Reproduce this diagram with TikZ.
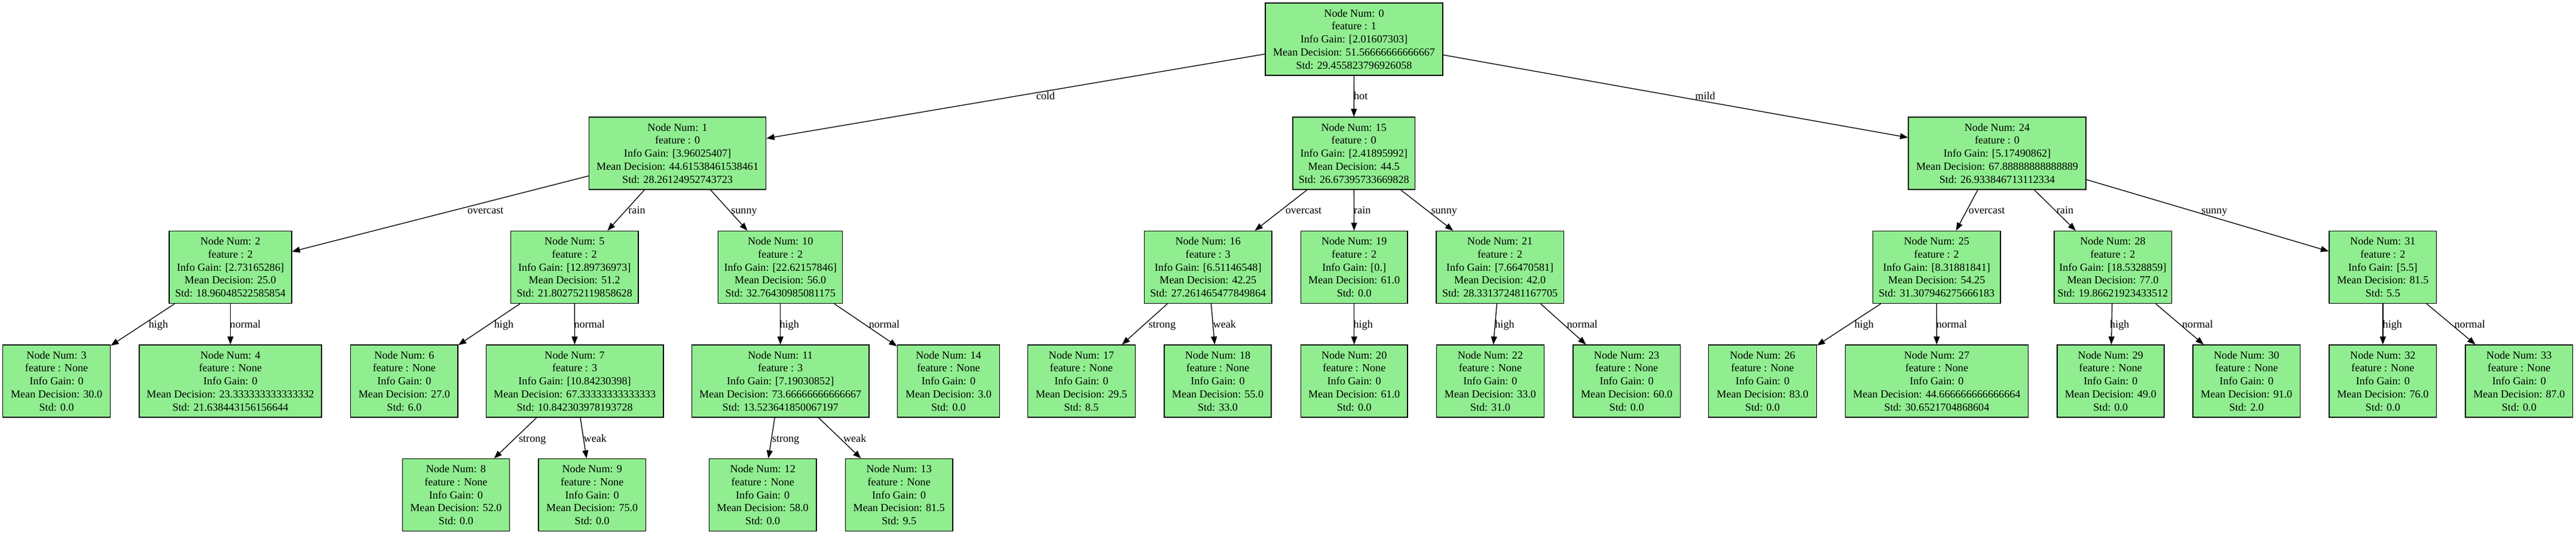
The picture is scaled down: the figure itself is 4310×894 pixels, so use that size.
\documentclass[tikz,border=0pt]{standalone}
\usepackage{fontspec}
\setmainfont{Liberation Serif}
\usetikzlibrary{arrows.meta}
\definecolor{lgreen}{RGB}{144,238,144}
\begin{document}
\begin{tikzpicture}[x=0.75pt,y=-0.75pt,
  tn/.style={draw=black, line width=1pt, fill=lgreen, rectangle, inner sep=0pt,
    minimum height=90.75pt, align=center, font=\fontsize{13.6pt}{16.35pt}\selectfont},
  nw/.style={minimum width=#1*0.75pt},
  edge/.style={draw=black, line width=1pt, -{Triangle[length=10pt,width=7.5pt]}},
  elab/.style={anchor=base, inner sep=0pt, font=\fontsize{13.6pt}{16.35pt}\selectfont}]
\useasboundingbox (0,0) rectangle (4310,894);
% level 0
\node[tn,nw=297] (n0) at (2265.5,65.5) {Node Num: 0\\feature : 1\\Info Gain: [2.01607303]\\Mean Decision: 51.56666666666667\\Std: 29.455823796926058};
% level 1
\node[tn,nw=296] (n1) at (1133.6,256.5) {Node Num: 1\\feature : 0\\Info Gain: [3.96025407]\\Mean Decision: 44.61538461538461\\Std: 28.26124952743723};
\node[tn,nw=204.5] (n15) at (2265.2,256.5) {Node Num: 15\\feature : 0\\Info Gain: [2.41895992]\\Mean Decision: 44.5\\Std: 26.67395733669828};
\node[tn,nw=297] (n24) at (3341.5,256.5) {Node Num: 24\\feature : 0\\Info Gain: [5.17490862]\\Mean Decision: 67.88888888888889\\Std: 26.933846713112334};
% level 2
\node[tn,nw=204.7] (n2) at (385.5,447) {Node Num: 2\\feature : 2\\Info Gain: [2.73165286]\\Mean Decision: 25.0\\Std: 18.96048522585854};
\node[tn,nw=213.3] (n5) at (961.2,447) {Node Num: 5\\feature : 2\\Info Gain: [12.89736973]\\Mean Decision: 51.2\\Std: 21.802752119858628};
\node[tn,nw=207.8] (n10) at (1305.7,447) {Node Num: 10\\feature : 2\\Info Gain: [22.62157846]\\Mean Decision: 56.0\\Std: 32.76430985081175};
\node[tn,nw=213.3] (n16) at (2021.2,447) {Node Num: 16\\feature : 3\\Info Gain: [6.51146548]\\Mean Decision: 42.25\\Std: 27.261465477849864};
\node[tn,nw=178.6] (n19) at (2265.7,447) {Node Num: 19\\feature : 2\\Info Gain: [0.]\\Mean Decision: 61.0\\Std: 0.0};
\node[tn,nw=213.5] (n21) at (2509.6,447) {Node Num: 21\\feature : 2\\Info Gain: [7.66470581]\\Mean Decision: 42.0\\Std: 28.331372481167705};
\node[tn,nw=213.2] (n25) at (3240.2,447) {Node Num: 25\\feature : 2\\Info Gain: [8.31881841]\\Mean Decision: 54.25\\Std: 31.307946275666183};
\node[tn,nw=196.4] (n28) at (3535,447) {Node Num: 28\\feature : 2\\Info Gain: [18.5328859]\\Mean Decision: 77.0\\Std: 19.86621923433512};
\node[tn,nw=179.7] (n31) at (3986.8,447) {Node Num: 31\\feature : 2\\Info Gain: [5.5]\\Mean Decision: 81.5\\Std: 5.5};
% level 3
\node[tn,nw=180] (n3) at (94.6,637.5) {Node Num: 3\\feature : None\\Info Gain: 0\\Mean Decision: 30.0\\Std: 0.0};
\node[tn,nw=305.3] (n4) at (385.5,637.5) {Node Num: 4\\feature : None\\Info Gain: 0\\Mean Decision: 23.333333333333332\\Std: 21.638443156156644};
\node[tn,nw=179.2] (n6) at (676.4,637.5) {Node Num: 6\\feature : None\\Info Gain: 0\\Mean Decision: 27.0\\Std: 6.0};
\node[tn,nw=296.8] (n7) at (961.6,637.5) {Node Num: 7\\feature : 3\\Info Gain: [10.84230398]\\Mean Decision: 67.33333333333333\\Std: 10.842303978193728};
\node[tn,nw=296.4] (n11) at (1305.7,637.5) {Node Num: 11\\feature : 3\\Info Gain: [7.19030852]\\Mean Decision: 73.66666666666667\\Std: 13.523641850067197};
\node[tn,nw=171] (n14) at (1587,637.5) {Node Num: 14\\feature : None\\Info Gain: 0\\Mean Decision: 3.0\\Std: 0.0};
\node[tn,nw=180] (n17) at (1809.3,637.5) {Node Num: 17\\feature : None\\Info Gain: 0\\Mean Decision: 29.5\\Std: 8.5};
\node[tn,nw=179.2] (n18) at (2037.5,637.5) {Node Num: 18\\feature : None\\Info Gain: 0\\Mean Decision: 55.0\\Std: 33.0};
\node[tn,nw=178.6] (n20) at (2265.7,637.5) {Node Num: 20\\feature : None\\Info Gain: 0\\Mean Decision: 61.0\\Std: 0.0};
\node[tn,nw=179.6] (n22) at (2493.4,637.5) {Node Num: 22\\feature : None\\Info Gain: 0\\Mean Decision: 33.0\\Std: 31.0};
\node[tn,nw=179.6] (n23) at (2721.6,637.5) {Node Num: 23\\feature : None\\Info Gain: 0\\Mean Decision: 60.0\\Std: 0.0};
\node[tn,nw=180.8] (n26) at (2949,637.5) {Node Num: 26\\feature : None\\Info Gain: 0\\Mean Decision: 83.0\\Std: 0.0};
\node[tn,nw=305.7] (n27) at (3240.4,637.5) {Node Num: 27\\feature : None\\Info Gain: 0\\Mean Decision: 44.666666666666664\\Std: 30.6521704868604};
\node[tn,nw=179] (n29) at (3531.3,637.5) {Node Num: 29\\feature : None\\Info Gain: 0\\Mean Decision: 49.0\\Std: 0.0};
\node[tn,nw=179.7] (n30) at (3758.7,637.5) {Node Num: 30\\feature : None\\Info Gain: 0\\Mean Decision: 91.0\\Std: 2.0};
\node[tn,nw=179.7] (n32) at (3986.8,637.5) {Node Num: 32\\feature : None\\Info Gain: 0\\Mean Decision: 76.0\\Std: 0.0};
\node[tn,nw=179.7] (n33) at (4214.8,637.5) {Node Num: 33\\feature : None\\Info Gain: 0\\Mean Decision: 87.0\\Std: 0.0};
% level 4
\node[tn,nw=179.3] (n8) at (762.9,828) {Node Num: 8\\feature : None\\Info Gain: 0\\Mean Decision: 52.0\\Std: 0.0};
\node[tn,nw=179.4] (n9) at (990.7,828) {Node Num: 9\\feature : None\\Info Gain: 0\\Mean Decision: 75.0\\Std: 0.0};
\node[tn,nw=179.6] (n12) at (1276.2,828) {Node Num: 12\\feature : None\\Info Gain: 0\\Mean Decision: 58.0\\Std: 0.0};
\node[tn,nw=179.7] (n13) at (1504.2,828) {Node Num: 13\\feature : None\\Info Gain: 0\\Mean Decision: 81.5\\Std: 9.5};
% edges
\draw[edge] (n0) -- (n1);
\draw[edge] (n0) -- (n15);
\draw[edge] (n0) -- (n24);
\draw[edge] (n1) -- (n2);
\draw[edge] (n1) -- (n5);
\draw[edge] (n1) -- (n10);
\draw[edge] (n2) -- (n3);
\draw[edge] (n2) -- (n4);
\draw[edge] (n5) -- (n6);
\draw[edge] (n5) -- (n7);
\draw[edge] (n7) -- (n8);
\draw[edge] (n7) -- (n9);
\draw[edge] (n10) -- (n11);
\draw[edge] (n10) -- (n14);
\draw[edge] (n11) -- (n12);
\draw[edge] (n11) -- (n13);
\draw[edge] (n15) -- (n16);
\draw[edge] (n15) -- (n19);
\draw[edge] (n15) -- (n21);
\draw[edge] (n16) -- (n17);
\draw[edge] (n16) -- (n18);
\draw[edge] (n19) -- (n20);
\draw[edge] (n21) -- (n22);
\draw[edge] (n21) -- (n23);
\draw[edge] (n24) -- (n25);
\draw[edge] (n24) -- (n28);
\draw[edge] (n24) -- (n31);
\draw[edge] (n25) -- (n26);
\draw[edge] (n25) -- (n27);
\draw[edge] (n28) -- (n29);
\draw[edge] (n28) -- (n30);
\draw[edge] (n31) -- (n32);
\draw[edge] (n31) -- (n33);
% edge labels
\node[elab] (l0a) at (1749.4,166.5) {cold};
\node[elab] (l0b) at (2276.7,166.5) {hot};
\node[elab] (l0c) at (2853,166.5) {mild};
\node[elab] (l1a) at (812.2,357) {overcast};
\node[elab] (l1b) at (1065.5,357) {rain};
\node[elab] (l1c) at (1245,357) {sunny};
\node[elab] (l15a) at (2181,357) {overcast};
\node[elab] (l15b) at (2279.3,357) {rain};
\node[elab] (l15c) at (2416.2,357) {sunny};
\node[elab] (l24a) at (3324.1,357) {overcast};
\node[elab] (l24b) at (3455,357) {rain};
\node[elab] (l24c) at (3704.9,357) {sunny};
\node[elab] (l2a) at (265,548) {high};
\node[elab] (l2b) at (410.4,548) {normal};
\node[elab] (l5a) at (843,548) {high};
\node[elab] (l5b) at (986.3,548) {normal};
\node[elab] (l10a) at (1320.7,548) {high};
\node[elab] (l10b) at (1479.5,548) {normal};
\node[elab] (l16a) at (1944.4,548) {strong};
\node[elab] (l16b) at (2048.8,548) {weak};
\node[elab] (l19a) at (2280.7,548) {high};
\node[elab] (l21a) at (2517.5,548) {high};
\node[elab] (l21b) at (2647.3,548) {normal};
\node[elab] (l25a) at (3118.9,548) {high};
\node[elab] (l25b) at (3265.4,548) {normal};
\node[elab] (l28a) at (3546.3,548) {high};
\node[elab] (l28b) at (3676.8,548) {normal};
\node[elab] (l31a) at (4002.8,548) {high};
\node[elab] (l31b) at (4132.2,548) {normal};
\node[elab] (l7a) at (890.8,739) {strong};
\node[elab] (l7b) at (995.8,739) {weak};
\node[elab] (l11a) at (1314.6,739) {strong};
\node[elab] (l11b) at (1430.2,739) {weak};
\end{tikzpicture}
\end{document}
